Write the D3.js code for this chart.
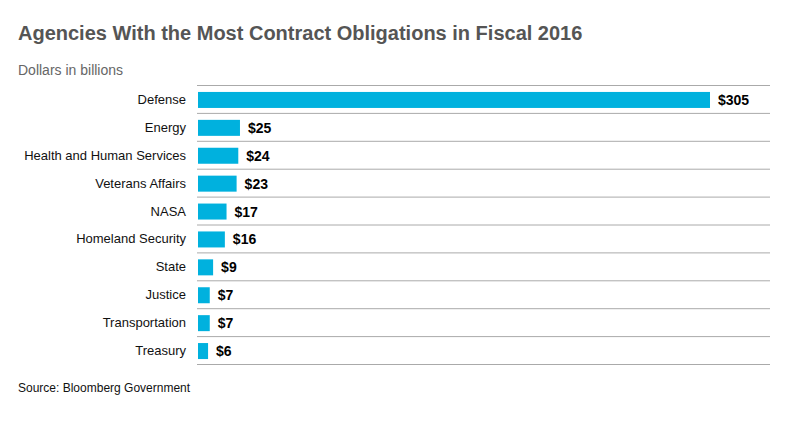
<!DOCTYPE html>
<html><head><meta charset="utf-8">
<script src="https://cdn.jsdelivr.net/npm/d3@7"></script>
<style>body{margin:0;background:#fff;font-family:"Liberation Sans",Arial,sans-serif}</style>
</head><body><div id="chart"></div>
<script>
const agencies = ["Defense","Energy","Health and Human Services","Veterans Affairs","NASA","Homeland Security","State","Justice","Transportation","Treasury"];
const values = [305,25,24,23,17,16,9,7,7,6];

const width = 804, height = 421;
const plotLeft = 197, plotRight = 770, plotTop = 85, plotBottom = 364;

const svg = d3.select("#chart").append("svg").attr("width", width).attr("height", height);

svg.append("text").attr("x", 18).attr("y", 40)
    .attr("font-size", 20).attr("font-weight", "bold").attr("fill", "#555")
    .text("Agencies With the Most Contract Obligations in Fiscal 2016");
svg.append("text").attr("x", 18).attr("y", 75)
    .attr("font-size", 14).attr("fill", "#666").text("Dollars in billions");

const x = d3.scaleLinear().domain([0, 305]).range([plotLeft + 1, 710]);
const y = d3.scaleBand().domain(agencies).range([plotTop, plotBottom]);

// separator lines
svg.selectAll(".sep").data(d3.range(agencies.length + 1)).enter().append("line")
    .attr("x1", plotLeft).attr("x2", plotRight)
    .attr("y1", i => plotTop + i * y.step() + 0.5).attr("y2", i => plotTop + i * y.step() + 0.5)
    .attr("stroke", "#aaa");

const bh = 16;
svg.selectAll(".bar").data(agencies).enter().append("rect")
    .attr("x", x(0)).attr("y", d => y(d) + (y.step() - bh) / 2 + 1)
    .attr("width", (d, i) => x(values[i]) - x(0)).attr("height", bh)
    .attr("fill", "#00b1de");

svg.selectAll(".lab").data(agencies).enter().append("text")
    .attr("x", 186).attr("y", d => y(d) + y.step() / 2 + 5)
    .attr("text-anchor", "end").attr("font-size", 13).attr("fill", "#111").text(d => d);

svg.selectAll(".val").data(agencies).enter().append("text")
    .attr("x", (d, i) => x(values[i]) + 8).attr("y", d => y(d) + y.step() / 2 + 6)
    .attr("font-size", 14).attr("font-weight", "bold").attr("fill", "#000")
    .text((d, i) => "$" + values[i]);

svg.append("text").attr("x", 18).attr("y", 392).attr("font-size", 12).attr("fill", "#111")
    .text("Source: Bloomberg Government");
</script></body></html>
